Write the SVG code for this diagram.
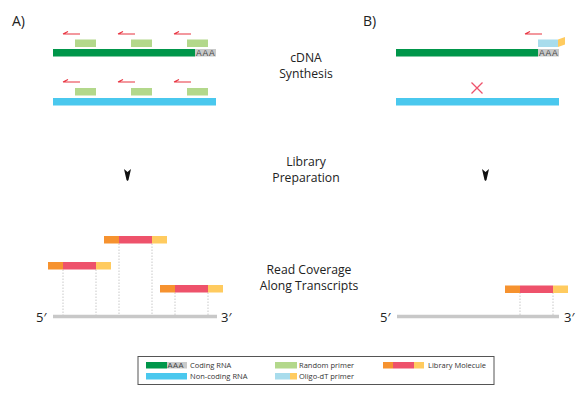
<svg xmlns="http://www.w3.org/2000/svg" width="586" height="398" viewBox="0 0 586 398">
<style>
text{font-family:"Open Sans","Noto Sans","Liberation Sans",sans-serif;fill:#222}
.lbl{font-size:12.2px;text-anchor:middle}
.pl{font-size:14px}
.lg{font-size:7.5px;fill:#333}
.aaa{font-size:8.5px;fill:#444;font-family:"Liberation Sans",sans-serif;letter-spacing:0.8px}
.coding{fill:#00964a}
.nonc{fill:#4ac8ee}
.rp{fill:#b3d88b}
.od{fill:#a8dcec}
.yl{fill:#ffcb5f}
.or{fill:#f6922f}
.rd{fill:#ee526b}
.gy{fill:#c9caca}
.dot{stroke:#bbb;stroke-width:0.8;stroke-dasharray:1.5 1.5;fill:none}
.ar{stroke:#e8323f;stroke-width:1.2;fill:none}
.base{stroke:#c8c8c8;stroke-width:3.5}
</style>
<defs>
<g id="redArrow"><path class="ar" d="M0,0 H17 M0,0 L5,-2.5"/></g>
<g id="mol"><rect class="or" x="0" y="0" width="15" height="7.5"/><rect class="rd" x="15" y="0" width="33" height="7.5"/><rect class="yl" x="48" y="0" width="15" height="7.5"/></g>
<path id="chev" d="M0,0 L3.5,3 L7,0 L4.5,11 L3.5,12 L2.5,11 Z" fill="#111"/>
</defs>
<g id="panelA">
<text class="pl" x="12" y="26">A)</text>
<g id="a-coding">
<rect class="coding" x="53" y="49" width="142" height="7.5"/>
<rect class="gy" x="195" y="49" width="21" height="7.5"/>
<text class="aaa" x="196" y="56">AAA</text>
</g>
<g id="a-primers1">
<rect class="rp" x="75" y="39.5" width="21" height="7.5"/>
<rect class="rp" x="131" y="39.5" width="21" height="7.5"/>
<rect class="rp" x="187" y="39.5" width="21" height="7.5"/>
<use href="#redArrow" x="63" y="34"/>
<use href="#redArrow" x="118" y="34"/>
<use href="#redArrow" x="174" y="34"/>
</g>
<g id="a-noncoding">
<rect class="nonc" x="53" y="98" width="163" height="7.5"/>
</g>
<g id="a-primers2">
<rect class="rp" x="75" y="88" width="21" height="7.5"/>
<rect class="rp" x="131" y="88" width="21" height="7.5"/>
<rect class="rp" x="187" y="88" width="21" height="7.5"/>
<use href="#redArrow" x="63" y="82"/>
<use href="#redArrow" x="118" y="82"/>
<use href="#redArrow" x="174" y="82"/>
</g>
</g>
<g id="panelB">
<text class="pl" x="363" y="26">B)</text>
<g id="b-coding">
<rect class="coding" x="396" y="49" width="142" height="7.5"/>
<rect class="gy" x="538" y="49" width="21" height="7.5"/>
<text class="aaa" x="539" y="56">AAA</text>
<rect class="od" x="538" y="39.5" width="20" height="7.5"/>
<path class="yl" d="M558,39.5 L565,37 L565,44.5 L558,47 Z"/>
<use href="#redArrow" x="525" y="34"/>
</g>
<g id="b-noncoding">
<rect class="nonc" x="396" y="98" width="163" height="7.5"/>
<path d="M471.5,82.5 L482.5,93.5 M482.5,82.5 L471.5,93.5" stroke="#ee526b" stroke-width="1.3"/>
</g>
</g>
<g id="steps">
<text class="lbl" x="306" y="62">cDNA</text>
<text class="lbl" x="306" y="78">Synthesis</text>
<text class="lbl" x="306" y="166">Library</text>
<text class="lbl" x="306" y="182">Preparation</text>
<text class="lbl" x="309" y="274">Read Coverage</text>
<text class="lbl" x="309" y="290">Along Transcripts</text>
</g>
<g id="connectors">
<use href="#chev" x="124" y="169"/>
<use href="#chev" x="482" y="169"/>
<path class="dot" d="M63,269.5 V315 M96,269.5 V315 M119,243.5 V315 M152,243.5 V315 M175,292.5 V315 M208,292.5 V315 M520,292.5 V315 M553,292.5 V315"/>
</g>
<g id="coverageA">
<line class="base" x1="53" y1="316.5" x2="217" y2="316.5"/>
<text class="pl" x="36" y="322" style="font-size:13px">5′</text>
<text class="pl" x="221" y="322" style="font-size:13px">3′</text>
<use href="#mol" x="104" y="236"/>
<use href="#mol" x="48" y="262"/>
<use href="#mol" x="160" y="285"/>
</g>
<g id="coverageB">
<line class="base" x1="397" y1="316.5" x2="559" y2="316.5"/>
<text class="pl" x="380" y="322" style="font-size:13px">5′</text>
<text class="pl" x="564" y="322" style="font-size:13px">3′</text>
<use href="#mol" x="505" y="285.5"/>
</g>
<g id="legend">
<rect x="138" y="356.5" width="356" height="28" fill="#fff" stroke="#555" stroke-width="1"/>
<rect class="coding" x="146" y="362" width="21" height="6.5"/>
<rect class="gy" x="167" y="362" width="20" height="6.5"/>
<text class="aaa" x="167.5" y="368" style="font-size:7.5px;letter-spacing:0.5px">AAA</text>
<text class="lg" x="190" y="368">Coding RNA</text>
<rect class="nonc" x="146" y="373" width="41" height="6.5"/>
<text class="lg" x="190" y="379">Non-coding RNA</text>
<rect class="rp" x="275" y="362" width="22" height="6.5"/>
<text class="lg" x="299" y="368">Random  primer</text>
<rect class="od" x="275" y="373" width="15" height="6.5"/>
<rect class="yl" x="290" y="373" width="7" height="6.5"/>
<text class="lg" x="299" y="379">Oligo-dT primer</text>
<rect class="or" x="383" y="362" width="10" height="6.5"/>
<rect class="rd" x="393" y="362" width="21" height="6.5"/>
<rect class="yl" x="414" y="362" width="10" height="6.5"/>
<text class="lg" x="428" y="368">Library Molecule</text>
</g>
</svg>
